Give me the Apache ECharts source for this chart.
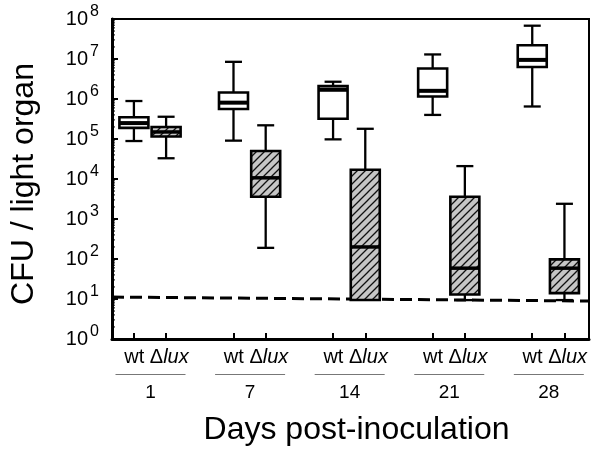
<!DOCTYPE html>
<html><head><meta charset="utf-8">
<script src="https://cdn.jsdelivr.net/npm/echarts@6/dist/echarts.min.js"></script>
<style>html,body{margin:0;padding:0;background:#fff}#c{width:602px;height:456px}</style>
</head><body><div id="c"></div>
<script>
// ---- data ----
const days = ['1', '7', '14', '21', '28'];
const wtX = [1, 4, 7, 10, 13];
const luxX = [1.97, 4.97, 7.97, 10.97, 13.97];
const labelX = [1.5, 4.5, 7.5, 10.5, 13.5];
// box values: [min, q1, median, q3, max]  (CFU / light organ)
const wtBoxes = [
  [8.9e4, 1.9e5, 2.5e5, 3.5e5, 8.9e5],
  [9.1e4, 5.6e5, 8.1e5, 1.45e6, 8.5e6],
  [9.8e4, 3.2e5, 1.7e6, 2.1e6, 2.7e6],
  [4.0e5, 1.15e6, 1.6e6, 5.8e6, 1.3e7],
  [6.5e5, 6.3e6, 9.5e6, 2.2e7, 6.8e7]
];
const luxBoxes = [
  [3.3e4, 1.15e5, 1.5e5, 2.0e5, 3.6e5],
  [1.9e2, 3.6e3, 1.07e4, 5.0e4, 2.2e5],
  [9.4, 9.4, 2.0e2, 1.7e4, 1.8e5],
  [9.4, 13, 59, 3.6e3, 2.1e4],
  [9.4, 14, 59, 98, 2.4e3]
];
const limitX = [0.34, 14.71];
const limitY = [11.2, 8.9];
const yMinVal = 1, yMaxVal = 1e8;

// minor log ticks (axis decoration)
const minorTicks = [];
for (let e = 0; e < 8; e++) for (let m = 2; m <= 9; m++) minorTicks.push([limitX[0], m * Math.pow(10, e)]);

// hatch pattern
const pc = document.createElement('canvas'); pc.width = 8; pc.height = 8;
const g = pc.getContext('2d');
g.fillStyle = '#c6c6c6'; g.fillRect(0, 0, 8, 8);
g.strokeStyle = '#111'; g.lineWidth = 1.3;
g.beginPath();
g.moveTo(-1, 9); g.lineTo(9, -1);
g.moveTo(-1, 1); g.lineTo(1, -1);
g.moveTo(7, 9); g.lineTo(9, 7);
g.stroke();
const hatch = { image: pc, repeat: 'repeat' };

function boxRender(hatched) {
  return function (params, api) {
    const x = api.value(0);
    const p = [1, 2, 3, 4, 5].map(i => api.coord([x, api.value(i)]));
    const cx = p[0][0];
    const hw = 14.5, cw = 8.5;
    const yMin = p[0][1], yQ1 = p[1][1], yMed = p[2][1], yQ3 = p[3][1], yMax = p[4][1];
    const ls = { stroke: '#000', lineWidth: 2.3 };
    const ch = [];
    ch.push({ type: 'line', shape: { x1: cx, y1: yMax, x2: cx, y2: yQ3 }, style: ls });
    ch.push({ type: 'line', shape: { x1: cx - cw, y1: yMax, x2: cx + cw, y2: yMax }, style: ls });
    if (yMin - yQ1 > 1) {
      ch.push({ type: 'line', shape: { x1: cx, y1: yQ1, x2: cx, y2: yMin }, style: ls });
      ch.push({ type: 'line', shape: { x1: cx - cw, y1: yMin, x2: cx + cw, y2: yMin }, style: ls });
    }
    ch.push({ type: 'rect', shape: { x: cx - hw, y: yQ3, width: 2 * hw, height: yQ1 - yQ3 },
      style: { fill: hatched ? hatch : '#fff', stroke: '#000', lineWidth: 2.6 } });
    ch.push({ type: 'line', shape: { x1: cx - hw, y1: yMed, x2: cx + hw, y2: yMed },
      style: { stroke: '#000', lineWidth: hatched ? 3.5 : 4 } });
    return { type: 'group', children: ch };
  };
}

const font = '"Liberation Sans", Arial, sans-serif';
const chart = echarts.init(document.getElementById('c'));
chart.setOption({
  animation: false,
  backgroundColor: '#fff',
  textStyle: { fontFamily: font, color: '#000' },
  grid: { left: 110, right: 13, top: 19, bottom: 117, show: true, borderColor: '#000', borderWidth: 2 },
  xAxis: {
    type: 'value', min: limitX[0], max: limitX[1],
    axisLine: { show: true, onZero: false, lineStyle: { color: '#000', width: 3 } },
    axisTick: { show: true, inside: true, length: 6, customValues: wtX.concat(luxX), lineStyle: { color: '#000', width: 2 } },
    splitLine: { show: false },
    axisLabel: {
      customValues: labelX, margin: 1, color: '#000',
      formatter: function (v) {
        let i = 0, best = 1e9;
        labelX.forEach((lx, k) => { if (Math.abs(lx - v) < best) { best = Math.abs(lx - v); i = k; } });
        return '{a|wt }{d|Δ}{i|lux}\n{u| }\n{n|' + days[i] + '}';
      },
      rich: {
        a: { fontSize: 20, lineHeight: 34, padding: [0, 0, 0, 12], fontFamily: font, color: '#000' },
        d: { fontSize: 20, lineHeight: 34, fontFamily: font, color: '#000' },
        i: { fontSize: 20, lineHeight: 34, fontStyle: 'italic', fontFamily: font, color: '#000' },
        u: { width: 70, height: 1, lineHeight: 1, fontSize: 1, backgroundColor: '#777' },
        n: { fontSize: 19, lineHeight: 36, fontFamily: font, color: '#000' }
      }
    },
    name: 'Days post-inoculation', nameLocation: 'middle', nameGap: 75,
    nameTextStyle: { fontSize: 32, color: '#000', fontFamily: font, padding: [0, 0, 0, 12] }
  },
  yAxis: {
    type: 'log', logBase: 10, min: yMinVal, max: yMaxVal, splitNumber: 8,
    axisLine: { show: true, lineStyle: { color: '#000', width: 3 } },
    axisTick: { show: true, inside: true, length: 6, lineStyle: { color: '#000', width: 2 } },
    splitLine: { show: false },
    axisLabel: {
      margin: 13, color: '#000',
      formatter: function (v) { return '{b|10}{s|' + Math.round(Math.log10(v)) + '}'; },
      rich: {
        b: { fontSize: 20, lineHeight: 30, fontFamily: font, color: '#000' },
        s: { fontSize: 16, lineHeight: 19, verticalAlign: 'top', padding: [0, 0, 0, 2], fontFamily: font, color: '#000' }
      }
    },
    name: 'CFU / light organ', nameLocation: 'middle', nameGap: 72,
    nameTextStyle: { fontSize: 32, color: '#000', fontFamily: font, padding: [0, 10, 0, 0] }
  },
  series: [
    {
      type: 'custom', name: 'minorTicks', data: minorTicks, encode: { x: 0, y: 1 }, silent: true,
      renderItem: function (params, api) {
        const p = api.coord([api.value(0), api.value(1)]);
        return { type: 'line', shape: { x1: p[0], y1: p[1], x2: p[0] + 3, y2: p[1] }, style: { stroke: '#000', lineWidth: 1 } };
      }
    },
    {
      type: 'line', name: 'limit', data: [[limitX[0], limitY[0]], [limitX[1], limitY[1]]],
      symbol: 'none', lineStyle: { color: '#000', width: 3, type: [12, 6] }, z: 1
    },
    {
      type: 'custom', name: 'wt', z: 3,
      data: wtBoxes.map((b, i) => [wtX[i]].concat(b)),
      encode: { x: 0, y: [1, 2, 3, 4, 5] },
      renderItem: boxRender(false)
    },
    {
      type: 'custom', name: 'lux', z: 3,
      data: luxBoxes.map((b, i) => [luxX[i]].concat(b)),
      encode: { x: 0, y: [1, 2, 3, 4, 5] },
      renderItem: boxRender(true)
    }
  ]
});
</script>
</body></html>
